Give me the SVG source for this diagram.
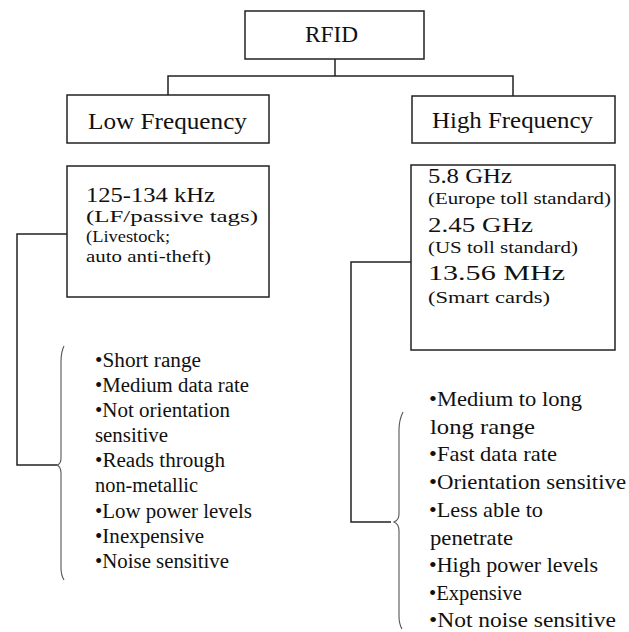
<svg xmlns="http://www.w3.org/2000/svg" width="629" height="632" viewBox="0 0 629 632">
<style>
.box{fill:#fff;stroke:#222;stroke-width:1.5}
.con{fill:none;stroke:#222;stroke-width:1.5}
.brace{fill:none;stroke:#555;stroke-width:1.1}
text{font-family:"Liberation Serif","Times New Roman",serif;fill:#111}
.hd{font-size:23px}
.big{font-size:20px}
.sm{font-size:17px}
.ll{font-size:20px}
.rl{font-size:21.5px}
</style>
<rect width="629" height="632" fill="#fff"/>
<g id="connectors">
<polyline class="con" points="335,59 335,76"/>
<polyline class="con" points="168,95 168,76 513,76 513,96"/>
<polyline class="con" points="67,234 17,234 17,465 57,465"/>
<polyline class="con" points="411,262 351,262 351,522 391,522"/>
<path class="brace" d="M64,346 Q61,352 61,362 L61,458 Q61,464 57,465 Q61,467 61,473 L61,568 Q61,575 64,580"/>
<path class="brace" d="M403,412 Q399,420 399,430 L399,514 Q399,520 394,522 Q399,524 399,531 L399,616 Q399,624 402,629"/>
</g>
<g id="rfid">
<rect class="box" x="245" y="11" width="179" height="48"/>
<text class="hd" x="305" y="42" textLength="53" lengthAdjust="spacingAndGlyphs">RFID</text>
</g>
<g id="low-frequency">
<rect class="box" x="67" y="95" width="202" height="48"/>
<text class="hd" x="88" y="129" textLength="159" lengthAdjust="spacingAndGlyphs">Low Frequency</text>
</g>
<g id="high-frequency">
<rect class="box" x="412" y="96" width="203" height="47"/>
<text class="hd" x="432" y="128" textLength="161" lengthAdjust="spacingAndGlyphs">High Frequency</text>
</g>
<g id="lf-detail">
<rect class="box" x="67" y="166" width="202" height="131"/>
<text class="big" x="86" y="202" textLength="129" lengthAdjust="spacingAndGlyphs">125-134 kHz</text>
<text class="sm" x="86" y="222" textLength="172" lengthAdjust="spacingAndGlyphs">(LF/passive tags)</text>
<text class="sm" x="86" y="242" textLength="84" lengthAdjust="spacingAndGlyphs">(Livestock;</text>
<text class="sm" x="86" y="262" textLength="125" lengthAdjust="spacingAndGlyphs">auto anti-theft)</text>
</g>
<g id="hf-detail">
<rect class="box" x="411" y="165" width="204" height="185"/>
<text class="big" x="428" y="183" textLength="84" lengthAdjust="spacingAndGlyphs">5.8 GHz</text>
<text class="sm" x="428" y="204" textLength="183" lengthAdjust="spacingAndGlyphs">(Europe toll standard)</text>
<text class="big" x="428" y="232" textLength="105" lengthAdjust="spacingAndGlyphs">2.45 GHz</text>
<text class="sm" x="428" y="253" textLength="150" lengthAdjust="spacingAndGlyphs">(US toll standard)</text>
<text class="big" x="428" y="280" textLength="137" lengthAdjust="spacingAndGlyphs">13.56 MHz</text>
<text class="sm" x="428" y="303" textLength="122" lengthAdjust="spacingAndGlyphs">(Smart cards)</text>
</g>
<g id="lf-properties">
<text class="ll" x="95" y="367" textLength="106" lengthAdjust="spacingAndGlyphs">•Short range</text>
<text class="ll" x="95" y="392" textLength="154" lengthAdjust="spacingAndGlyphs">•Medium data rate</text>
<text class="ll" x="95" y="417" textLength="135" lengthAdjust="spacingAndGlyphs">•Not orientation</text>
<text class="ll" x="95" y="442" textLength="73" lengthAdjust="spacingAndGlyphs">sensitive</text>
<text class="ll" x="95" y="467" textLength="130" lengthAdjust="spacingAndGlyphs">•Reads through</text>
<text class="ll" x="95" y="492" textLength="103" lengthAdjust="spacingAndGlyphs">non-metallic</text>
<text class="ll" x="95" y="518" textLength="157" lengthAdjust="spacingAndGlyphs">•Low power levels</text>
<text class="ll" x="95" y="543" textLength="109" lengthAdjust="spacingAndGlyphs">•Inexpensive</text>
<text class="ll" x="95" y="568" textLength="134" lengthAdjust="spacingAndGlyphs">•Noise sensitive</text>
</g>
<g id="hf-properties">
<text class="rl" x="429" y="406" textLength="153" lengthAdjust="spacingAndGlyphs">•Medium to long</text>
<text class="rl" x="430" y="434" textLength="105" lengthAdjust="spacingAndGlyphs">long range</text>
<text class="rl" x="429" y="461" textLength="128" lengthAdjust="spacingAndGlyphs">•Fast data rate</text>
<text class="rl" x="429" y="489" textLength="197" lengthAdjust="spacingAndGlyphs">•Orientation sensitive</text>
<text class="rl" x="429" y="517" textLength="114" lengthAdjust="spacingAndGlyphs">•Less able to</text>
<text class="rl" x="430" y="545" textLength="83" lengthAdjust="spacingAndGlyphs">penetrate</text>
<text class="rl" x="429" y="572" textLength="169" lengthAdjust="spacingAndGlyphs">•High power levels</text>
<text class="rl" x="429" y="600" textLength="93" lengthAdjust="spacingAndGlyphs">•Expensive</text>
<text class="rl" x="429" y="627" textLength="187" lengthAdjust="spacingAndGlyphs">•Not noise sensitive</text>
</g>
</svg>
